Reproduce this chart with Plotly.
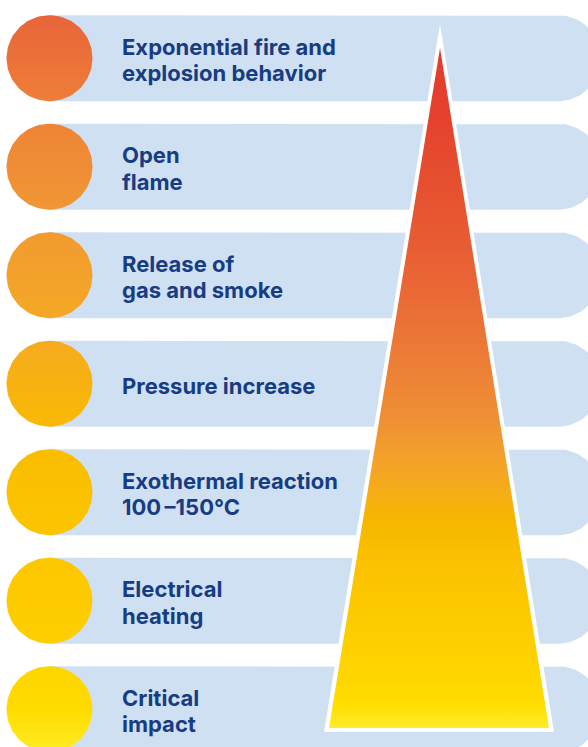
import numpy as np
import plotly.graph_objects as go

# ---- data ----
labels = [
    "Exponential fire and<br>explosion behavior",
    "Open<br>flame",
    "Release of<br>gas and smoke",
    "Pressure increase",
    "Exothermal reaction<br>100\u2009–150°C",
    "Electrical<br>heating",
    "Critical<br>impact",
]
stage_rank = [7, 6, 5, 4, 3, 2, 1]  # severity, top = most severe

# circle colour ramp (top -> bottom of the column of circles)
circle_pos = [0.0, 0.117, 0.149, 0.266, 0.298, 0.415, 0.446, 0.562, 0.589, 0.706, 0.736, 0.852, 0.884, 0.943, 1.0]
circle_cols = ["#E8653A", "#EE7E38", "#EE8436", "#F09735", "#F19B30", "#F5A925", "#F6AB1E",
               "#F9BA02", "#FABD00", "#FCC500", "#FDC700", "#FECF00", "#FFD500", "#FFDC00", "#FFEC25"]

# triangle colour ramp (apex -> base)
tri_pos = [0.0, 0.106, 0.224, 0.341, 0.444, 0.547, 0.599, 0.635, 0.694, 0.753, 0.841, 0.929, 0.966, 1.0]
tri_cols = ["#E43A2D", "#E5422E", "#E65330", "#E96535", "#EC7A37", "#EF9034", "#F3A02C",
            "#F5A920", "#F7B600", "#FAC100", "#FDCB00", "#FFD600", "#FFDE00", "#FFEC2A"]

# ---- layout geometry (pixel-like coordinates) ----
W, H = 588, 747
top0, pitch, bh = 15.2, 108.5, 86
r = bh / 2
cx = 49.5
bar_end = 558
text_color = "#173C82"
bar_color = "#CFE0F2"
line_gap = 26.5
text_dy = 2

fig = go.Figure()

n = len(labels)
for i in range(n):
    yc = top0 + i * pitch + r
    t = np.linspace(-np.pi / 2, np.pi / 2, 60)
    xs = [cx] + list(bar_end + r * np.cos(t)) + [cx, cx]
    ys = [yc - r] + list(yc + r * np.sin(t)) + [yc + r, yc - r]
    fig.add_trace(go.Scatter(x=xs, y=ys, mode="lines", fill="toself",
                             fillcolor=bar_color, line=dict(width=0),
                             hoverinfo="skip", showlegend=False))

for i in range(n):
    yc = top0 + i * pitch + r
    t = np.linspace(0, 2 * np.pi, 120)
    fig.add_trace(go.Scatter(
        x=cx + r * np.cos(t), y=yc + r * np.sin(t), mode="lines", fill="toself",
        line=dict(width=0),
        fillgradient=dict(type="vertical", start=top0, stop=top0 + (n - 1) * pitch + bh,
                          colorscale=list(zip(circle_pos, circle_cols))),
        hoverinfo="skip", showlegend=False))

# white outline triangle
fig.add_trace(go.Scatter(x=[440, 554, 324, 440], y=[24, 732, 732, 24], mode="lines",
                         fill="toself", fillcolor="white", line=dict(width=0),
                         hoverinfo="skip", showlegend=False))
# gradient triangle
fig.add_trace(go.Scatter(
    x=[440, 549, 329, 440], y=[48, 728, 728, 48], mode="lines", fill="toself",
    line=dict(width=0),
    fillgradient=dict(type="vertical", start=48, stop=728,
                      colorscale=list(zip(tri_pos, tri_cols))),
    hoverinfo="skip", showlegend=False))

for i, lab in enumerate(labels):
    yc = top0 + i * pitch + r + text_dy
    lines = lab.split("<br>")
    k = len(lines)
    for j, ln in enumerate(lines):
        yl = yc + (j - (k - 1) / 2) * line_gap
        fig.add_annotation(x=119.5, y=yl, text="<b>" + ln + "</b>", showarrow=False,
                           xanchor="left", yanchor="middle", align="left",
                           font=dict(family="Inter, Liberation Sans, Arial", size=22,
                                     color=text_color))

fig.update_xaxes(range=[0, W], visible=False, fixedrange=True)
fig.update_yaxes(range=[H, 0], visible=False, fixedrange=True)
fig.update_layout(width=W, height=H, margin=dict(l=0, r=0, t=0, b=0),
                  paper_bgcolor="white", plot_bgcolor="white", showlegend=False)

fig.write_html("out.html", config={"displayModeBar": False},
               post_script="document.body.style.margin='0';document.body.style.overflow='hidden';")
